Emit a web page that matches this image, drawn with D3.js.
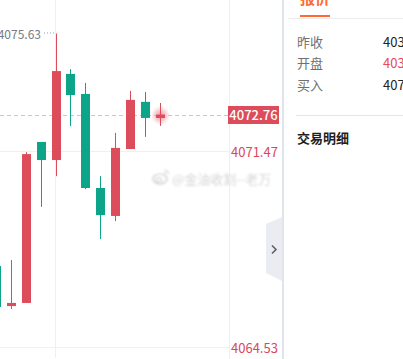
<!DOCTYPE html>
<html>
<head>
<meta charset="utf-8">
<script src="https://cdn.jsdelivr.net/npm/d3@7"></script>
<style>
  html, body { margin: 0; padding: 0; background: #fff; overflow: hidden; }
  svg { display: block; font-family: "Noto Sans CJK SC", "Noto Sans", sans-serif; }
</style>
</head>
<body>
<div id="chart"></div>
<script>
// candle data (left to right)
const candleIds = [0, 1, 2, 3, 4, 5, 6, 7, 8, 9, 10, 11];
const opens  = [4067.40, 4065.98, 4066.09, 4071.79, 4071.15, 4074.20, 4073.49, 4070.16, 4069.17, 4071.54, 4073.21, 4072.64];
const closes = [4065.95, 4066.09, 4071.36, 4071.15, 4074.30, 4073.45, 4070.16, 4069.20, 4071.58, 4073.28, 4072.64, 4072.76];
const highs  = [4067.54, 4067.61, 4071.43, 4071.79, 4075.63, 4074.37, 4073.88, 4070.58, 4072.11, 4073.60, 4073.56, 4073.17];
const lows   = [4065.84, 4065.88, 4066.09, 4069.49, 4070.58, 4072.35, 4070.12, 4068.35, 4068.99, 4071.54, 4071.97, 4072.36];

const priceTicks = [4071.47, 4064.53];
const lastPrice = 4072.76;
const maxPrice = 4075.63;
const gridCandle = 4;

// quote panel on the right (cut off in the screenshot)
const quoteLabels = ["昨收", "开盘", "买入"];
const quoteValues = ["403", "403", "407"];

const width = 403, height = 359;
const plotRight = 229;
const UP = "#dc4c5a", DOWN = "#0ca58a";

const svg = d3.select("#chart").append("svg")
  .attr("width", width)
  .attr("height", height);

const defs = svg.append("defs");
const glow = defs.append("radialGradient").attr("id", "glow");
glow.append("stop").attr("offset", "0%").attr("stop-color", "#e8546a").attr("stop-opacity", 0.7);
glow.append("stop").attr("offset", "55%").attr("stop-color", "#f08a98").attr("stop-opacity", 0.4);
glow.append("stop").attr("offset", "100%").attr("stop-color", "#f7b8c0").attr("stop-opacity", 0);
defs.append("filter").attr("id", "blur")
  .append("feGaussianBlur").attr("stdDeviation", 0.9);

const x = d3.scaleBand()
  .domain(candleIds)
  .range([-10.8, 167.4])
  .paddingInner(0.4)
  .paddingOuter(0.2);

const y = d3.scaleLinear()
  .domain([priceTicks[1], priceTicks[0]])
  .range([347, 151]);

// grid
const grid = svg.append("g").attr("stroke", "#f0f0f2").attr("stroke-width", 1);
priceTicks.forEach(p => {
  grid.append("line")
    .attr("x1", 0).attr("x2", plotRight)
    .attr("y1", Math.round(y(p)) + 0.5).attr("y2", Math.round(y(p)) + 0.5);
});
const gx = Math.round(x(gridCandle)) + 4 - 0.5;
grid.append("line").attr("x1", gx).attr("x2", gx).attr("y1", 0).attr("y2", 358);
svg.append("line")
  .attr("x1", plotRight + 0.5).attr("x2", plotRight + 0.5)
  .attr("y1", 0).attr("y2", height)
  .attr("stroke", "#eeeef0");

// last price dashed line
svg.append("line")
  .attr("x1", 0).attr("x2", 228)
  .attr("y1", Math.round(y(lastPrice)) + 0.5).attr("y2", Math.round(y(lastPrice)) + 0.5)
  .attr("stroke", "#f4b6be")
  .attr("stroke-dasharray", "4,3");

// glow behind the live candle
const lastId = candleIds[candleIds.length - 1];
svg.append("circle")
  .attr("cx", Math.round(x(lastId)) + 4.5)
  .attr("cy", y(lastPrice) + 1)
  .attr("r", 10)
  .attr("fill", "url(#glow)");

// candles
const candles = svg.append("g").selectAll("g")
  .data(candleIds)
  .join("g")
  .attr("fill", i => closes[i] >= opens[i] ? UP : DOWN);

candles.append("rect")
  .attr("x", i => Math.round(x(i)) + 4)
  .attr("width", 1)
  .attr("y", i => y(highs[i]))
  .attr("height", i => y(lows[i]) - y(highs[i]));

candles.append("rect")
  .attr("x", i => Math.round(x(i)))
  .attr("width", 9)
  .attr("y", i => y(Math.max(opens[i], closes[i])))
  .attr("height", i => Math.max(1, Math.abs(y(opens[i]) - y(closes[i]))));

// max marker
const maxIdx = highs.indexOf(d3.max(highs));
const maxX = Math.round(x(maxIdx)) + 4;
svg.append("line")
  .attr("x1", 44).attr("x2", maxX - 1)
  .attr("y1", y(maxPrice) - 0.5).attr("y2", y(maxPrice) - 0.5)
  .attr("stroke", "#9a9ea8")
  .attr("stroke-dasharray", "1,2");
svg.append("text")
  .attr("x", 41).attr("y", y(maxPrice) + 1)
  .attr("dy", "0.35em")
  .attr("text-anchor", "end")
  .attr("font-size", 12)
  .attr("fill", "#757a86")
  .text(maxPrice.toFixed(2));

// price axis labels
svg.append("g").selectAll("text")
  .data(priceTicks)
  .join("text")
  .attr("x", 231)
  .attr("y", d => y(d) + 1.5)
  .attr("dy", "0.35em")
  .attr("font-size", 13)
  .attr("fill", "#d9485a")
  .text(d => d.toFixed(2));

const ly = y(lastPrice);
svg.append("rect")
  .attr("x", 228).attr("y", Math.round(ly) - 9)
  .attr("width", 51).attr("height", 18)
  .attr("fill", "#dc4c5a");
svg.append("text")
  .attr("x", 253.5).attr("y", Math.round(ly) + 0.5)
  .attr("dy", "0.35em")
  .attr("text-anchor", "middle")
  .attr("font-size", 13)
  .attr("font-weight", 500)
  .attr("fill", "#fff")
  .text(lastPrice.toFixed(2));

// weibo watermark
const wm = svg.append("g").attr("filter", "url(#blur)").attr("opacity", 0.85);
wm.append("ellipse").attr("cx", 160).attr("cy", 179).attr("rx", 7).attr("ry", 5)
  .attr("fill", "none").attr("stroke", "#bcbcbc").attr("stroke-width", 1.2);
wm.append("ellipse").attr("cx", 159).attr("cy", 180).attr("rx", 3).attr("ry", 2.2)
  .attr("fill", "none").attr("stroke", "#bcbcbc");
wm.append("path").attr("d", "M165,170 a5,5 0 0 1 4,4 M164,172 a3,3 0 0 1 2,2")
  .attr("fill", "none").attr("stroke", "#bcbcbc");
wm.append("text")
  .attr("x", 172).attr("y", 179)
  .attr("dy", "0.35em")
  .attr("font-size", 13)
  .attr("fill", "#cdcdcd")
  .attr("stroke", "#fff").attr("stroke-width", 2).attr("paint-order", "stroke")
  .text("@金油收割--老万");

// collapse tab
svg.append("path")
  .attr("d", "M266,224 L282,217 L282,281 L266,273 Z")
  .attr("fill", "#ebecf1");
svg.append("path")
  .attr("d", "M272,245.5 L276,249.5 L272,253.5")
  .attr("fill", "none")
  .attr("stroke", "#5a5f6d")
  .attr("stroke-width", 1.6);

// panel divider
svg.append("rect")
  .attr("x", 282).attr("y", 0)
  .attr("width", 2).attr("height", height)
  .attr("fill", "#e0e4ec");

// quote panel
svg.append("text")
  .attr("x", 300).attr("y", 4)
  .attr("font-size", 15)
  .attr("font-weight", 700)
  .attr("fill", "#ff6a33")
  .text("报价");
svg.append("rect")
  .attr("x", 300).attr("y", 15)
  .attr("width", 30).attr("height", 2)
  .attr("fill", "#ff6a33");
svg.append("line")
  .attr("x1", 288).attr("x2", width)
  .attr("y1", 18.5).attr("y2", 18.5)
  .attr("stroke", "#ececef");

const rowY = d3.scalePoint().domain(quoteLabels).range([42, 85]);
svg.append("g").selectAll("text")
  .data(quoteLabels)
  .join("text")
  .attr("x", 297)
  .attr("y", d => rowY(d))
  .attr("dy", "0.35em")
  .attr("font-size", 13)
  .attr("fill", "#6f6f6f")
  .text(d => d);
svg.append("g").selectAll("text")
  .data(quoteValues)
  .join("text")
  .attr("x", 383)
  .attr("y", (d, i) => rowY(quoteLabels[i]))
  .attr("dy", "0.35em")
  .attr("font-size", 13)
  .attr("fill", (d, i) => i === 1 ? "#e54a5a" : "#222")
  .text(d => d);

svg.append("line")
  .attr("x1", 296).attr("x2", width)
  .attr("y1", 115.5).attr("y2", 115.5)
  .attr("stroke", "#e6e6e8");
svg.append("text")
  .attr("x", 297).attr("y", 138)
  .attr("dy", "0.35em")
  .attr("font-size", 13)
  .attr("font-weight", 700)
  .attr("fill", "#1f1f1f")
  .text("交易明细");
</script>
</body>
</html>
